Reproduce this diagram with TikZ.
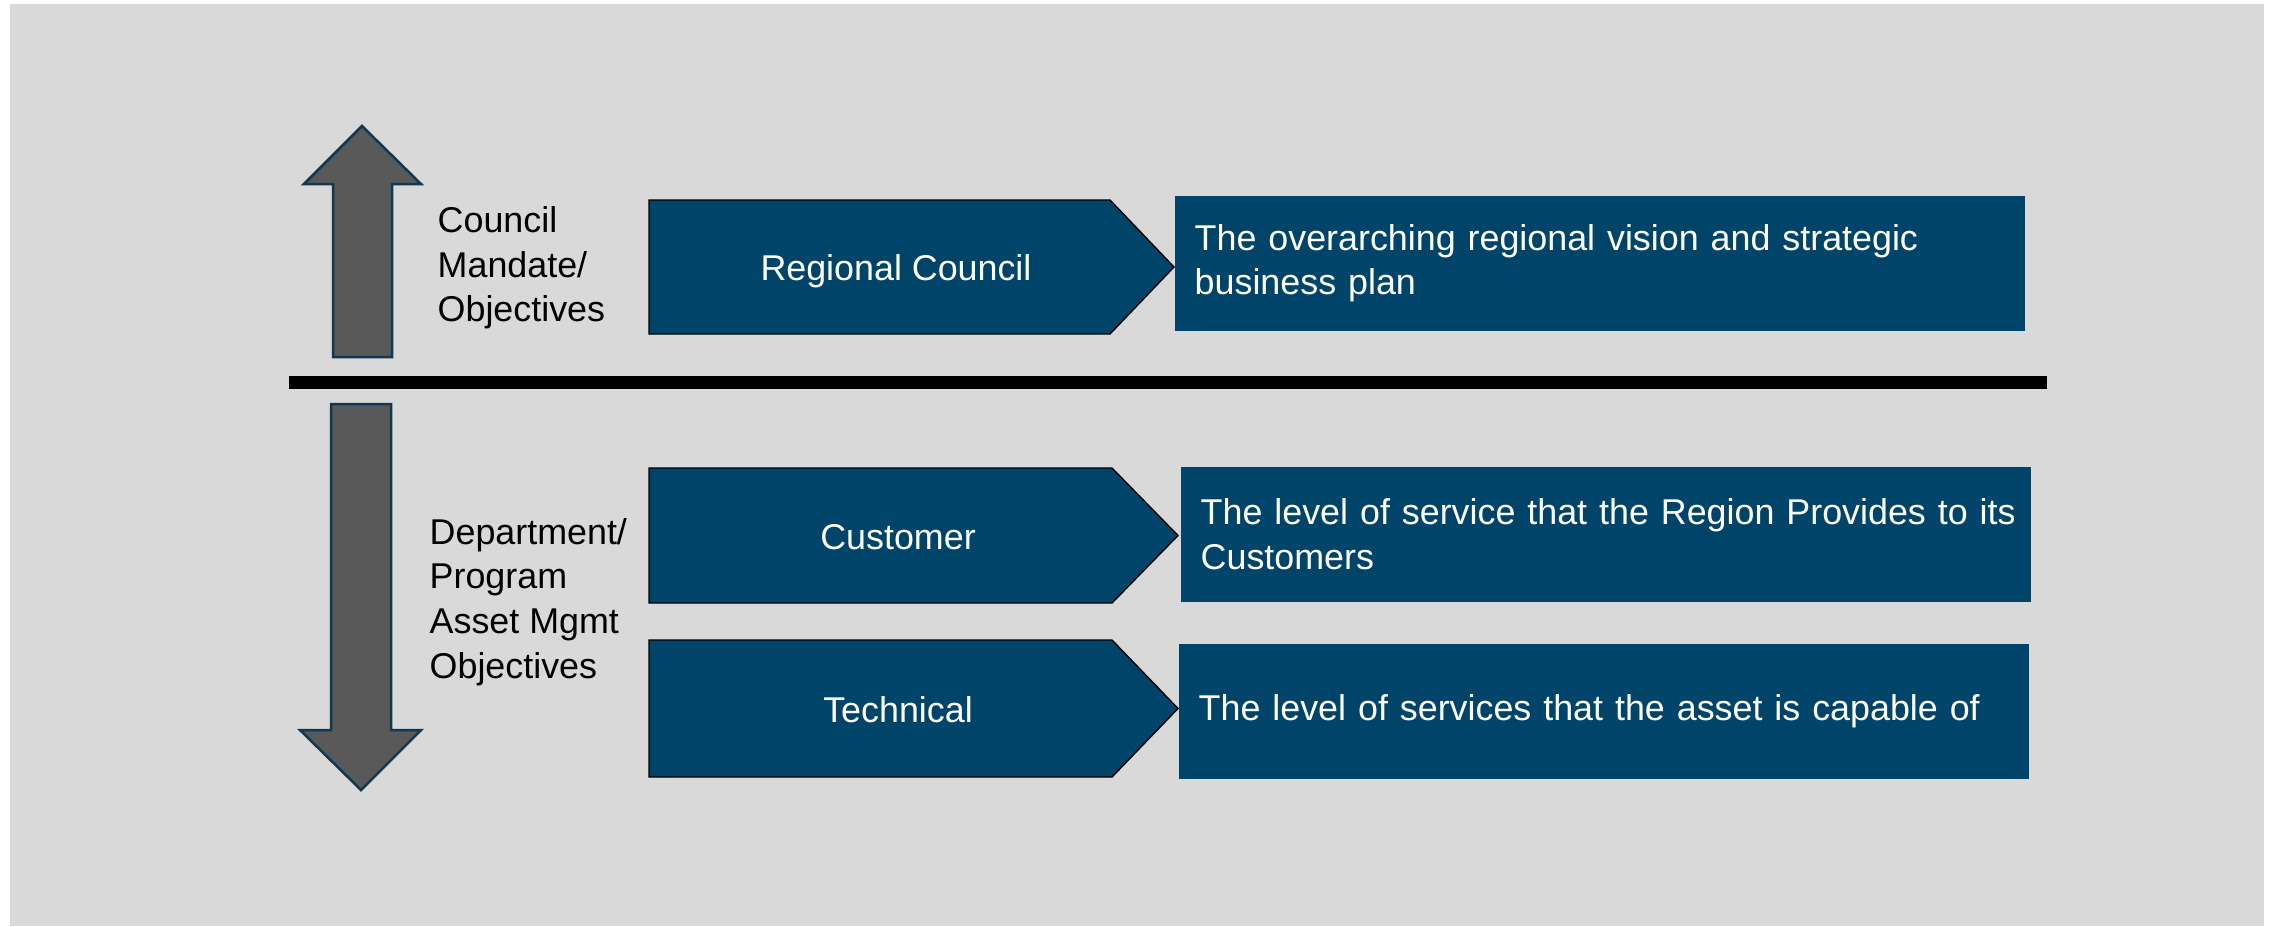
\documentclass[tikz,border=0pt]{standalone}
\usepackage{fontspec}
\setmainfont{Liberation Sans}
\usepackage{xcolor}
\usetikzlibrary{positioning,calc}

\definecolor{panelgray}{HTML}{D9D9D9}
\definecolor{levelblue}{HTML}{004469}
\definecolor{arrowgray}{HTML}{595959}
\definecolor{arrowedge}{HTML}{12374F}

\tikzset{
    chev/.style={fill=levelblue},
    chevtext/.style={text=white, anchor=base, inner sep=0pt},
    descbox/.style={fill=levelblue, text=white, anchor=north west, align=left,
        minimum width=8.5cm, minimum height=1.35cm, text width=8.1cm,
        inner xsep=0.2cm, inner ysep=0pt},
    sidetext/.style={text=black, anchor=west, align=left, inner sep=0pt},
    blockarrow/.style={fill=arrowgray, draw=arrowedge, line width=0.025cm, line join=miter}
}

\begin{document}
\begin{tikzpicture}[font=\fontsize{10.2}{12.7}\selectfont]
    \useasboundingbox (0,0) rectangle (22.72,-9.26);
    % panel
    \fill[panelgray] (0.10,-0.04) rectangle (22.64,-9.26);

    % up arrow
    \draw[blockarrow] (3.62,-1.26) -- (4.21,-1.84) -- (3.92,-1.84) -- (3.92,-3.57)
        -- (3.33,-3.57) -- (3.33,-1.84) -- (3.04,-1.84) -- cycle;
    % down arrow
    \draw[blockarrow] (3.31,-4.04) -- (3.91,-4.04) -- (3.91,-7.30) -- (4.21,-7.30)
        -- (3.61,-7.90) -- (3.00,-7.30) -- (3.31,-7.30) -- cycle;

    % divider
    \draw[line width=0.13cm] (2.89,-3.825) -- (20.47,-3.825);

    % side labels
    \node[sidetext] (mandate) at (4.37,-2.68) {Council\\Mandate/\\Objectives};
    \node[sidetext] (deptobj) at (4.29,-6.02) {Department/\\Program\\Asset Mgmt\\Objectives};

    % Regional Council
    \draw[chev] (6.49,-2.00) -- (11.10,-2.00) -- (11.74,-2.67) -- (11.10,-3.34) -- (6.49,-3.34) -- cycle;
    \node[chevtext] (regional) at (8.96,-2.80) {Regional Council};
    \node[descbox] (regionaldesc) at (11.74,-1.95) {The overarching regional vision and strategic\\business plan};

    % Customer
    \draw[chev] (6.49,-4.68) -- (11.12,-4.68) -- (11.78,-5.355) -- (11.12,-6.03) -- (6.49,-6.03) -- cycle;
    \node[chevtext] (customer) at (8.98,-5.49) {Customer};
    \node[descbox] (customerdesc) at (11.80,-4.66) {\mbox{The level of service that the Region Provides to its}\\Customers};

    % Technical
    \draw[chev] (6.49,-6.40) -- (11.12,-6.40) -- (11.78,-7.085) -- (11.12,-7.77) -- (6.49,-7.77) -- cycle;
    \node[chevtext] (technical) at (8.98,-7.22) {Technical};
    \node[descbox] (technicaldesc) at (11.78,-6.43) {The level of services that the asset is capable of};
\end{tikzpicture}
\end{document}
